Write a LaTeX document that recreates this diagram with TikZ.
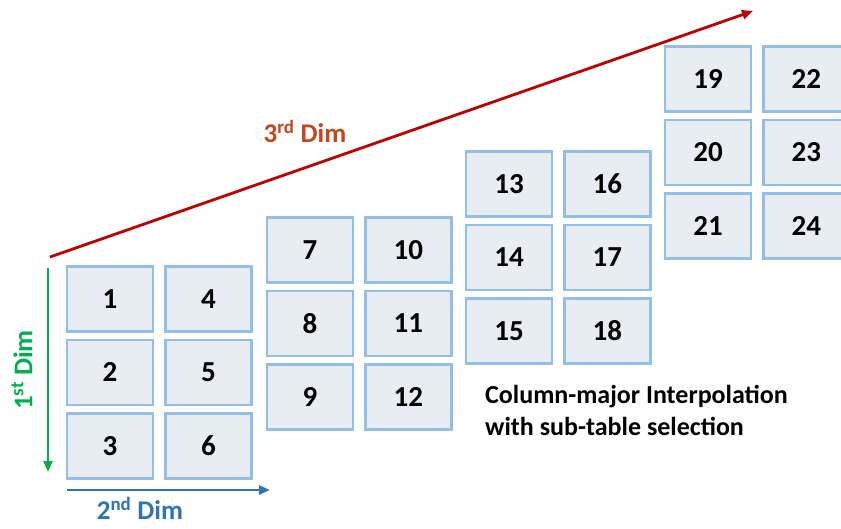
\documentclass[tikz,border=0pt]{standalone}
\usepackage{fontspec}
\setmainfont{Carlito}
\usepackage{tikz}
\usetikzlibrary{arrows.meta,positioning}

\definecolor{cellfill}{RGB}{232,237,243}
\definecolor{cellline}{RGB}{146,190,232}
\definecolor{dimred}{RGB}{192,0,0}
\definecolor{dimorange}{RGB}{197,70,25}
\definecolor{dimgreen}{RGB}{0,176,80}
\definecolor{dimblue}{RGB}{46,117,182}

\begin{document}
\begin{tikzpicture}[
  x=1pt,y=-1pt,
  every node/.style={font=\bfseries},
  cell/.style={draw=cellline,fill=cellfill,line width=2.4pt,minimum width=86pt,minimum height=65pt,
    inner sep=0pt,font=\bfseries\fontsize{29}{32}\selectfont},
  dimlabel/.style={font=\bfseries\fontsize{27}{30}\selectfont},
  arr/.style={-{Triangle[length=11pt,width=9pt]},line width=2.8pt}
]
\clip (0,0) rectangle (841,528);
\fill[white] (0,0) rectangle (841,528);

% sub-table 1
\node[cell] (c1) at (110,299) {1};
\node[cell,below=6pt of c1] (c2) {2};
\node[cell,below=6pt of c2] (c3) {3};
\node[cell,right=10pt of c1] (c4) {4};
\node[cell,below=6pt of c4] (c5) {5};
\node[cell,below=6pt of c5] (c6) {6};
% sub-table 2
\node[cell] (c7) at (310,250) {7};
\node[cell,below=6pt of c7] (c8) {8};
\node[cell,below=6pt of c8] (c9) {9};
\node[cell,right=10pt of c7] (c10) {10};
\node[cell,below=6pt of c10] (c11) {11};
\node[cell,below=6pt of c11] (c12) {12};
% sub-table 3
\node[cell] (c13) at (509,184) {13};
\node[cell,below=6pt of c13] (c14) {14};
\node[cell,below=6pt of c14] (c15) {15};
\node[cell,right=10pt of c13] (c16) {16};
\node[cell,below=6pt of c16] (c17) {17};
\node[cell,below=6pt of c17] (c18) {18};
% sub-table 4
\node[cell] (c19) at (708,79) {19};
\node[cell,below=6pt of c19] (c20) {20};
\node[cell,below=6pt of c20] (c21) {21};
\node[cell,right=10pt of c19] (c22) {22};
\node[cell,below=6pt of c22] (c23) {23};
\node[cell,below=6pt of c23] (c24) {24};

% axes
\coordinate (d3s) at (50,257);
\coordinate (d3e) at (753,11);
\coordinate (d1s) at (48,268);
\coordinate (d1e) at (48,472);
\coordinate (d2s) at (67,490);
\coordinate (d2e) at (270,490);
\draw[arr,dimred] (d3s) -- (d3e);
\draw[arr,dimgreen] (d1s) -- (d1e);
\draw[arr,dimblue] (d2s) -- (d2e);

\node[dimlabel,text=dimorange] (l3) at (305,131) {3\textsuperscript{rd} Dim};
\node[dimlabel,text=dimgreen,rotate=90] (l1) at (22,370) {1\textsuperscript{st} Dim};
\node[dimlabel,text=dimblue,inner sep=1pt] (l2) at (140,508) {2\textsuperscript{nd} Dim};

\node[align=left,anchor=north west,inner sep=0pt,font=\bfseries\fontsize{26}{32}\selectfont] (note) at (485,385)
  {Column-major Interpolation\\with sub-table selection};
\end{tikzpicture}
\end{document}
